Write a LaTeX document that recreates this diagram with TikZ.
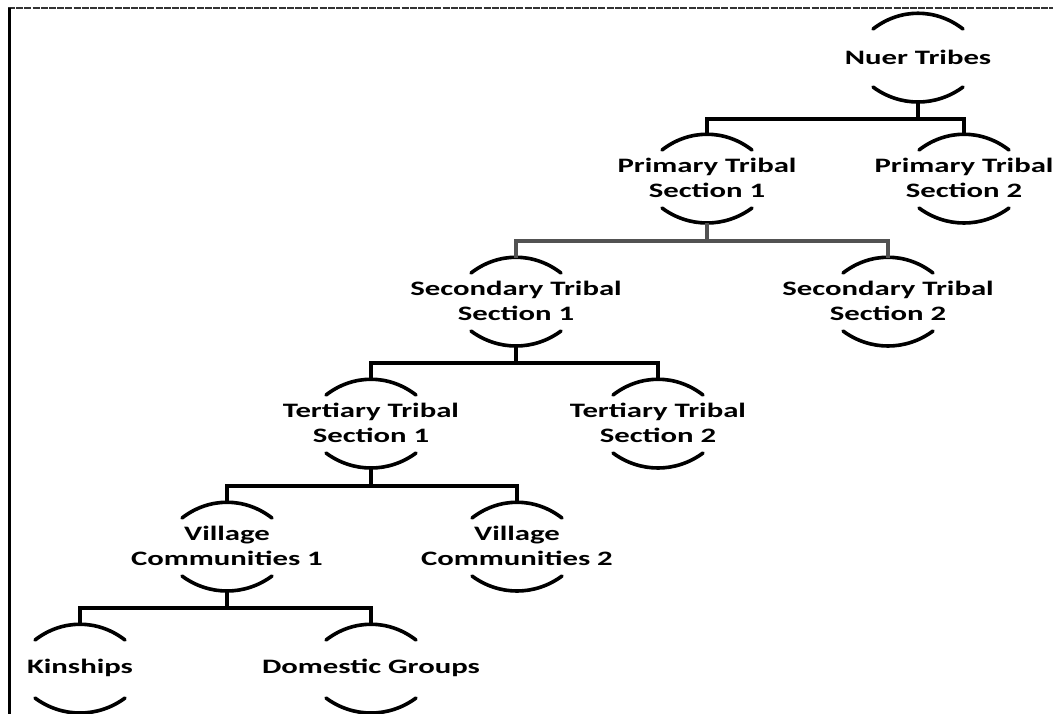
\documentclass[tikz,border=0pt]{standalone}
\usepackage{fontspec}
\setmainfont{Carlito}
\usetikzlibrary{calc}
\begin{document}
\begin{tikzpicture}[x=1pt,y=-1pt,
  lbl/.style={font=\bfseries\fontsize{20.5}{25}\selectfont, align=center, xscale=1.5, inner sep=0pt, text=black},
  arcline/.style={line width=3.6pt, black, line cap=round},
  conn/.style={line width=4.2pt, black},
  conngray/.style={line width=3.6pt, black!68}]
\useasboundingbox (0,0) rectangle (1053,713);
% frame
\draw[line width=1.2pt, black!80, dash pattern=on 7pt off 1.2pt] (8,8) -- (1060,8);
\draw[line width=3pt, black] (9.5,7.5) -- (9.5,720);
% nodes
\node[lbl] (nuer) at (918,57) {Nuer Tribes};
\node[lbl] (pts1) at (707,178) {Primary Tribal\\Section 1};
\node[lbl] (pts2) at (964,178) {Primary Tribal\\Section 2};
\node[lbl] (sts1) at (516,301) {Secondary Tribal\\Section 1};
\node[lbl] (sts2) at (888,301) {Secondary Tribal\\Section 2};
\node[lbl] (tts1) at (371,423) {Tertiary Tribal\\Section 1};
\node[lbl] (tts2) at (658,423) {Tertiary Tribal\\Section 2};
\node[lbl] (vc1) at (227,546) {Village\\Communities 1};
\node[lbl] (vc2) at (517,546) {Village\\Communities 2};
\node[lbl] (kin) at (80,668) {Kinships};
\node[lbl] (dom) at (371,668) {Domestic Groups};
% arcs and anchor coordinates
\foreach \n in {nuer,pts1,pts2,sts1,sts2,tts1,tts2,vc1,vc2,kin,dom}{
  \draw[arcline] ($(\n.center)+(-45,-28)$) .. controls ($(\n.center)+(-18,-49)$) and ($(\n.center)+(18,-49)$) .. ($(\n.center)+(45,-28)$);
  \draw[arcline] ($(\n.center)+(-45,30)$) .. controls ($(\n.center)+(-18,50)$) and ($(\n.center)+(18,50)$) .. ($(\n.center)+(45,30)$);
  \path (\n.center) ++(0,-43) coordinate (\n-t);
  \path (\n.center) ++(0,45) coordinate (\n-b);
}
% connectors
\draw[conn] (nuer-b) -- ++(0,17) -| (pts1-t);
\draw[conn] (nuer-b) -- ++(0,17) -| (pts2-t);
\draw[conngray] (pts1-b) -- ++(0,18) -| (sts1-t);
\draw[conngray] (pts1-b) -- ++(0,18) -| (sts2-t);
\draw[conn] (sts1-b) -- ++(0,17) -| (tts1-t);
\draw[conn] (sts1-b) -- ++(0,17) -| (tts2-t);
\draw[conn] (tts1-b) -- ++(0,18) -| (vc1-t);
\draw[conn] (tts1-b) -- ++(0,18) -| (vc2-t);
\draw[conn] (vc1-b) -- ++(0,17) -| (kin-t);
\draw[conn] (vc1-b) -- ++(0,17) -| (dom-t);
\end{tikzpicture}
\end{document}
